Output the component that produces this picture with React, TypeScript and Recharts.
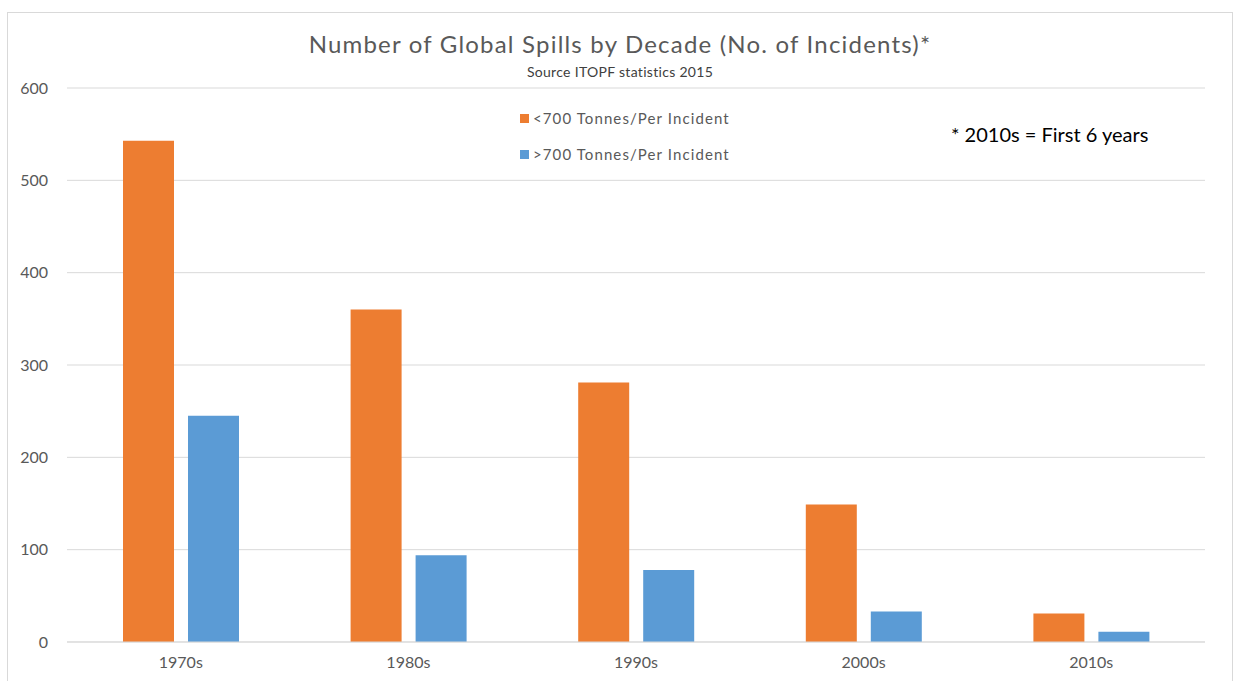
import React from "react";
import { BarChart, Bar, XAxis, YAxis, CartesianGrid, Legend } from "recharts";

const decades = ["1970s", "1980s", "1990s", "2000s", "2010s"];
const smallSpills = [543, 360, 281, 149, 31];
const largeSpills = [245, 94, 78, 33, 11];
const yTicks = [0, 100, 200, 300, 400, 500, 600];

const seriesNames = ["<700 Tonnes/Per Incident", ">700 Tonnes/Per Incident"];
const colors = ["#ED7D31", "#5B9BD5"];

const data = decades.map((d, i) => ({ decade: d, small: smallSpills[i], large: largeSpills[i] }));

const FONT = "Lato, 'Open Sans', sans-serif";
const GREY = "#595959";

const LegendContent = (props: any) => {
  const payload = props.payload || [];
  return (
    <div style={{ fontFamily: FONT, fontSize: 15, color: GREY, letterSpacing: 1.1 }}>
      {payload.map((p: any, i: number) => (
        <div key={i} style={{ display: "flex", alignItems: "center", height: 20, marginBottom: i === 0 ? 16 : 0, whiteSpace: "nowrap" }}>
          <span style={{ display: "inline-block", width: 9, height: 9, background: p.color, marginRight: 4 }} />
          <span>{p.value}</span>
        </div>
      ))}
    </div>
  );
};

export default function App() {
  return (
    <div style={{ position: "fixed", left: 0, top: 0, width: 1237, height: 681, overflow: "hidden", background: "#fff" }}>
      <div style={{ position: "absolute", left: 7, top: 12, width: 1226, height: 700, border: "1px solid #D9D9D9", boxSizing: "border-box" }} />
      <div style={{ position: "absolute", left: 0, top: 0 }}>
        <BarChart
          width={1237}
          height={681}
          data={data}
          margin={{ top: 88, right: 32, bottom: 9, left: 27 }}
          barSize={51}
          barGap={14}
        >
          <CartesianGrid vertical={false} stroke="#D9D9D9" strokeWidth={1} />
          <XAxis
            dataKey="decade"
            height={30}
            axisLine={{ stroke: "#D9D9D9" }}
            tickLine={false}
            tickMargin={9}
            tick={{ fill: GREY, fontSize: 16, fontFamily: FONT }}
          />
          <YAxis
            width={40}
            domain={[0, 600]}
            ticks={yTicks}
            axisLine={false}
            tickLine={false}
            tickMargin={13}
            tick={{ fill: GREY, fontSize: 16, fontFamily: FONT }}
          />
          <Legend
            layout="horizontal"
            verticalAlign="middle"
            align="center"
            wrapperStyle={{ position: "absolute", left: 520, top: 108, width: 260, height: 60 }}
            content={<LegendContent />}
          />
          <Bar dataKey="small" name={seriesNames[0]} fill={colors[0]} isAnimationActive={false} />
          <Bar dataKey="large" name={seriesNames[1]} fill={colors[1]} isAnimationActive={false} />
        </BarChart>
      </div>
      <div style={{ position: "absolute", left: 7, width: 1226, top: 29, textAlign: "center", fontFamily: FONT, fontSize: 24, letterSpacing: 1.2, color: GREY, whiteSpace: "nowrap", lineHeight: "normal" }}>
        Number of Global Spills by Decade (No. of Incidents)*
      </div>
      <div style={{ position: "absolute", left: 7, width: 1226, top: 63, textAlign: "center", fontFamily: FONT, fontSize: 14, letterSpacing: 0.3, color: "#404040", whiteSpace: "nowrap", lineHeight: "normal" }}>
        Source ITOPF statistics 2015
      </div>
      <div style={{ position: "absolute", left: 951, top: 122, fontFamily: FONT, fontSize: 20, color: "#000", whiteSpace: "nowrap", lineHeight: "normal" }}>
        * 2010s = First 6 years
      </div>
    </div>
  );
}
